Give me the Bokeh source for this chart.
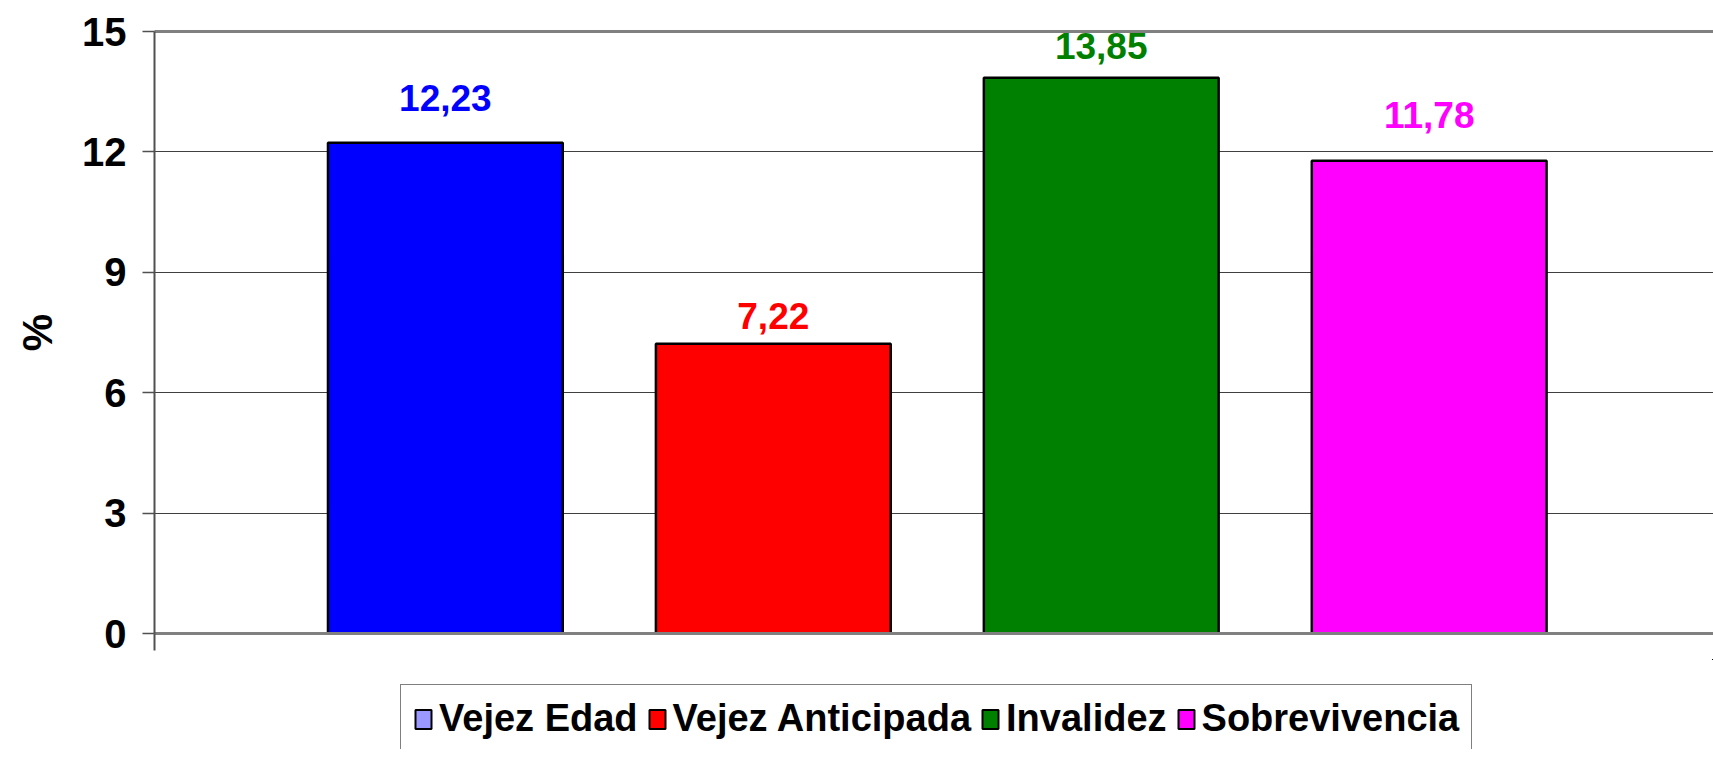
from bokeh.plotting import figure
from bokeh.layouts import column
from bokeh.models import (ColumnDataSource, Range1d, FixedTicker, LinearAxis, Legend,
                          LegendItem, LabelSet)
from bokeh.core.properties import value
from bokeh.embed import file_html
from bokeh.resources import INLINE

categories = ["Vejez Edad", "Vejez Anticipada", "Invalidez", "Sobrevivencia"]
values = [12.23, 7.22, 13.85, 11.78]
label_texts = ["12,23", "7,22", "13,85", "11,78"]
bar_colors = ["#0000FF", "#FF0000", "#008000", "#FF00FF"]
legend_colors = ["#9999FF", "#FF0000", "#008000", "#FF00FF"]
y_ticks = [0, 3, 6, 9, 12, 15]

# label placement (pixels above bar top), styling only
label_offsets = [32, 15, 19, 33]

FONT = "Liberation Sans"

positions = [i + 1 for i in range(len(categories))]
src = ColumnDataSource(dict(x=positions, top=values, color=bar_colors,
                            label=label_texts, cat=categories, off=label_offsets))

x_start, x_end = 0.113, 4.867
p = figure(width=1713, height=660, output_backend="svg", toolbar_location=None,
           x_range=Range1d(x_start, x_end), y_range=Range1d(0, 15),
           frame_width=1559, frame_height=602,
           min_border_left=154, min_border_right=0, min_border_top=31,
           min_border_bottom=26)
p.outline_line_color = None
p.background_fill_color = "white"

p.vbar(x="x", top="top", width=0.716, bottom=0, source=src,
       fill_color="color", line_color="black", line_width=2.5)

labels = LabelSet(x="x", y="top", text="label", source=src, text_color="color",
                  text_align="center", text_baseline="alphabetic", y_offset="off",
                  text_font_size="37px", text_font_style="bold",
                  text_font=value(FONT))
p.add_layout(labels)

# y axis
p.yaxis.ticker = FixedTicker(ticks=y_ticks)
p.yaxis.major_label_text_font_size = "40px"
p.yaxis.major_label_text_font_style = "bold"
p.yaxis.major_label_text_font = FONT
p.yaxis.major_label_text_color = "black"
p.yaxis.major_tick_out = 12
p.yaxis.major_tick_in = 0
p.yaxis.minor_tick_line_color = None
p.yaxis.major_label_standoff = 16
p.yaxis.axis_line_color = "#505050"
p.yaxis.axis_line_width = 2
p.yaxis.major_tick_line_color = "#505050"
p.yaxis.major_tick_line_width = 1.5
p.yaxis.axis_label = "%"
p.yaxis.axis_label_text_font_size = "42px"
p.yaxis.axis_label_text_font_style = "bold"
p.yaxis.axis_label_text_font = FONT
p.yaxis.axis_label_text_color = "black"
p.yaxis.axis_label_standoff = 18

# x axis (no labels, only the left tick below the baseline)
p.xaxis.ticker = FixedTicker(ticks=[x_start])
p.xaxis.major_label_overrides = {x_start: ""}
p.xaxis.major_tick_out = 17
p.xaxis.major_tick_in = 0
p.xaxis.major_tick_line_color = "#505050"
p.xaxis.major_tick_line_width = 2
p.xaxis.minor_tick_line_color = None
p.xaxis.axis_line_color = "#808080"
p.xaxis.axis_line_width = 3

top_axis = LinearAxis(ticker=FixedTicker(ticks=[]),
                      axis_line_color="#808080", axis_line_width=3,
                      major_tick_line_color=None, minor_tick_line_color=None)
p.add_layout(top_axis, "above")

p.xgrid.grid_line_color = None
p.ygrid.ticker = FixedTicker(ticks=y_ticks)
p.ygrid.grid_line_color = "#404040"
p.ygrid.grid_line_width = 1.2

# legend in its own strip below the chart; its swatch renderers lie outside the strip's view
lg = figure(width=1713, height=90, output_backend="svg", toolbar_location=None,
            x_range=Range1d(-10, -9), y_range=Range1d(-10, -9), min_border=0)
lg.axis.visible = False
lg.grid.visible = False
lg.outline_line_color = None

items = []
for name, col in zip(categories, legend_colors):
    r = lg.vbar(x="x", top="top", width=0.5, source=src, fill_color=col,
                line_color="black", line_width=2)
    items.append(LegendItem(label=name, renderers=[r]))

legend = Legend(items=items, orientation="horizontal", location=(246, -4),
                label_text_font_size="38px", label_text_font_style="bold",
                label_text_font=FONT, label_text_color="black",
                glyph_width=20, glyph_height=24, label_standoff=6, spacing=9,
                padding=12, margin=0, border_line_color="black", border_line_width=1.5,
                background_fill_color="white", background_fill_alpha=1)
lg.add_layout(legend, "center")

page = column(p, lg, spacing=0)
open("out.html", "w").write(file_html(page, INLINE))
